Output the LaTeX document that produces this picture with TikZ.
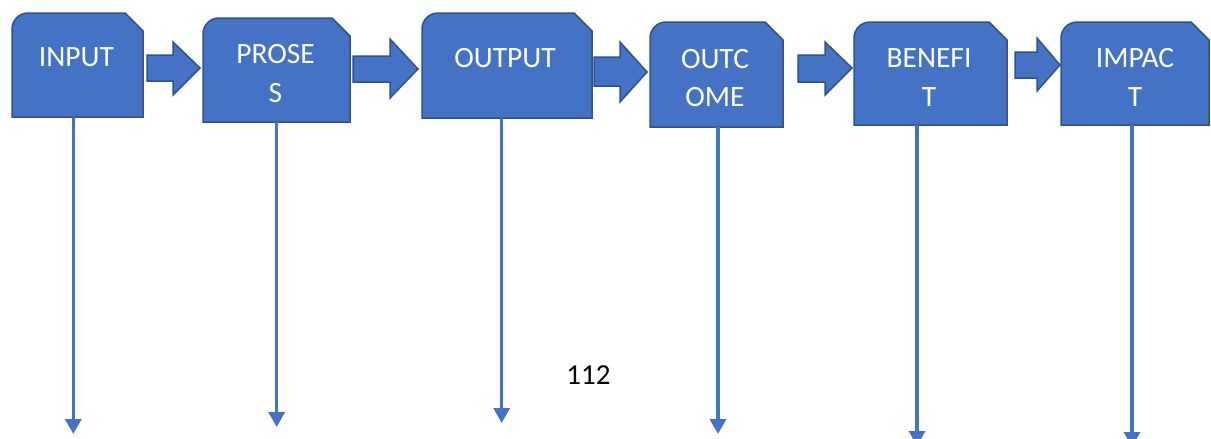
\documentclass[tikz,border=0pt]{standalone}
\usepackage{fontspec}
\setmainfont{Carlito}
\usetikzlibrary{arrows.meta,calc}
\definecolor{fillblue}{HTML}{4472C4}
\definecolor{edgeblue}{HTML}{2F528F}
\tikzset{
  boxnode/.style={inner sep=0pt,outer sep=0pt,minimum width=#1},
  boxdraw/.style={fill=fillblue,draw=edgeblue,line width=1.5pt,line join=miter},
  lbl/.style={text=white,font=\fontsize{29.5}{35}\selectfont,anchor=base,inner sep=0pt},
  vline/.style={draw=fillblue,line width=3.4pt,-{Triangle[width=16pt,length=15pt]}},
  blockarrow/.style={fill=fillblue,draw=edgeblue,line width=1.5pt,line join=miter}
}
\newcommand\snipbox[1]{%
  \draw[boxdraw] (#1.south west) -- ([yshift=-16pt]#1.north west)
    .. controls ([yshift=-7.2pt]#1.north west) and ([xshift=7.2pt]#1.north west) ..
    ([xshift=16pt]#1.north west) -- ([xshift=-18pt]#1.north east)
    -- ([yshift=-18pt]#1.north east) -- (#1.south east) -- cycle;}
% block arrow: x0 shaft start, x1 head start, x2 tip, shaft top/bottom, head top/bottom, tip y
\newcommand\blockarr[8]{%
  \draw[blockarrow] (#1,#4) -- (#2,#4) -- (#2,#6) -- (#3,#8) -- (#2,#7) -- (#2,#5) -- (#1,#5) -- cycle;}
\begin{document}
\begin{tikzpicture}[x=1pt,y=-1pt]
\useasboundingbox (0,0) rectangle (1211,439);
\clip (0,0) rectangle (1211,439);
% boxes
\node[boxnode=131pt,minimum height=104pt] (b1) at (77.5,65) {};
\node[boxnode=147pt,minimum height=104pt] (b2) at (276.5,70) {};
\node[boxnode=170pt,minimum height=105pt] (b3) at (507,65.5) {};
\node[boxnode=133pt,minimum height=105pt] (b4) at (716.5,74.5) {};
\node[boxnode=153pt,minimum height=103pt] (b5) at (930.5,73.5) {};
\node[boxnode=148pt,minimum height=103pt] (b6) at (1135,73.5) {};
\snipbox{b1}\snipbox{b2}\snipbox{b3}\snipbox{b4}\snipbox{b5}\snipbox{b6}
% labels
\node[lbl] (l1) at (76.5,66) {INPUT};
\node[lbl] (l2a) at (275.5,63) {PROSE};
\node[lbl] (l2b) at (275.5,102) {S};
\node[lbl] (l3) at (505,67) {OUTPUT};
\node[lbl] (l4a) at (715,68) {OUTC};
\node[lbl] (l4b) at (715,106) {OME};
\node[lbl] (l5a) at (929,67) {BENEFI};
\node[lbl] (l5b) at (929,106) {T};
\node[lbl] (l6a) at (1135,67) {IMPAC};
\node[lbl] (l6b) at (1135,106) {T};
% block arrows
\blockarr{147}{173}{200}{55}{81}{42}{95}{68}
\blockarr{353}{390}{418}{56}{82}{39}{98}{69}
\blockarr{594}{620}{647}{57}{86}{42}{102}{72}
\blockarr{798}{825}{852}{55}{82}{42}{95}{68}
\blockarr{1015}{1037}{1060}{52}{78}{38}{91}{65}
% vertical arrows
\coordinate (t1) at (73.3,434);
\coordinate (t2) at (276.7,427);
\coordinate (t3) at (501.7,423);
\coordinate (t4) at (718,434);
\coordinate (t5) at (917,446);
\coordinate (t6) at (1132,447);
\draw[vline] (t1 |- b1.south) -- (t1);
\draw[vline] (t2 |- b2.south) -- (t2);
\draw[vline] (t3 |- b3.south) -- (t3);
\draw[vline] (t4 |- b4.south) -- (t4);
\draw[vline] (t5 |- b5.south) -- (t5);
\draw[vline] (t6 |- b6.south) -- (t6);
% page number
\node[anchor=base,inner sep=0pt,font=\fontsize{29}{34}\selectfont] (pg) at (588.5,384) {112};
\end{tikzpicture}
\end{document}
